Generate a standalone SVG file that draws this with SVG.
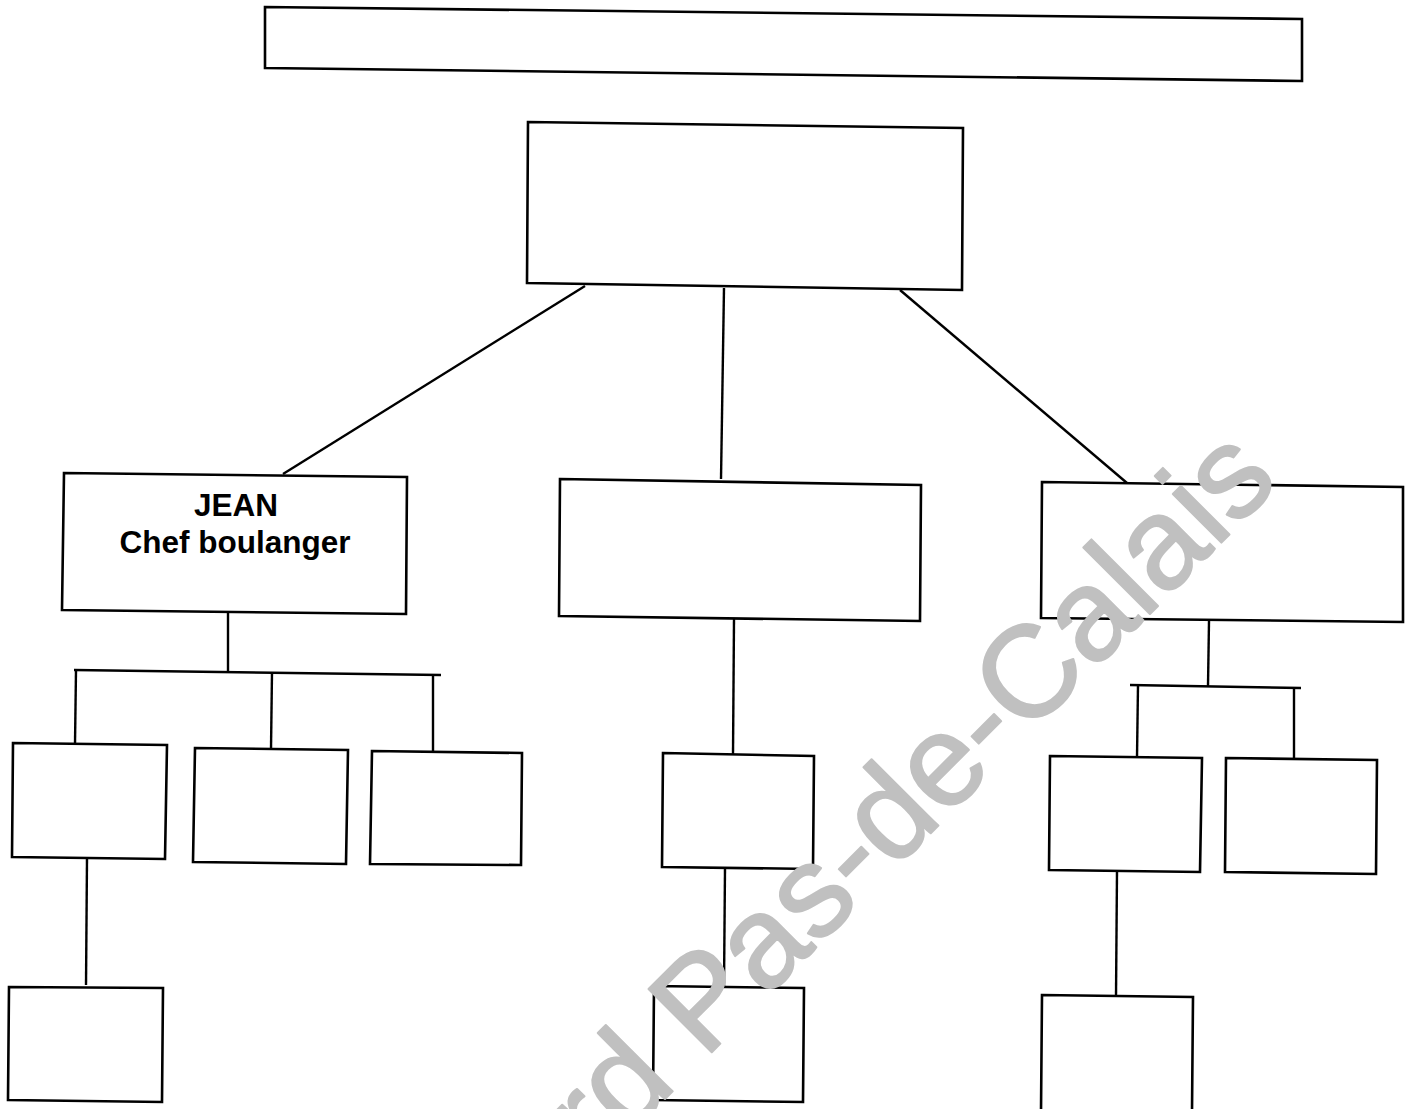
<svg xmlns="http://www.w3.org/2000/svg" width="1411" height="1109" viewBox="0 0 1411 1109">
<style>
.box{fill:#fff;stroke:#000;stroke-width:2.6;stroke-linejoin:miter}
.ln{fill:none;stroke:#000;stroke-width:2.4;stroke-linecap:butt}
.lbl{font-family:"Liberation Sans",Arial,sans-serif;font-weight:bold;font-size:31.5px;text-anchor:middle;fill:#000}
.wm{font-family:"Liberation Sans",Arial,sans-serif;font-size:130px;fill:#c0c0c0;stroke:#c0c0c0;stroke-width:2;stroke-linejoin:round}
</style>
<rect width="1411" height="1109" fill="#fff"/>
<g id="connectors">
<line class="ln" x1="585" y1="286" x2="283" y2="474"/>
<line class="ln" x1="724" y1="288" x2="721" y2="479"/>
<line class="ln" x1="900" y1="290" x2="1127" y2="483"/>
<line class="ln" x1="228" y1="613" x2="228" y2="671"/>
<line class="ln" x1="74" y1="670" x2="441" y2="675"/>
<line class="ln" x1="76" y1="670" x2="75" y2="744"/>
<line class="ln" x1="272" y1="672" x2="271" y2="749"/>
<line class="ln" x1="433" y1="675" x2="433" y2="751"/>
<line class="ln" x1="87" y1="858" x2="86" y2="985"/>
<line class="ln" x1="734" y1="619" x2="733" y2="754"/>
<line class="ln" x1="725" y1="868" x2="724" y2="986"/>
<line class="ln" x1="1209" y1="621" x2="1208" y2="686"/>
<line class="ln" x1="1130" y1="685" x2="1301" y2="688"/>
<line class="ln" x1="1138" y1="685" x2="1137" y2="757"/>
<line class="ln" x1="1294" y1="687" x2="1294" y2="764"/>
<line class="ln" x1="1117" y1="871" x2="1116" y2="996"/>
</g>
<g id="title-banner"><polygon class="box" points="265,7 1302,19 1302,81 265,68"/></g>
<g id="top-box"><polygon class="box" points="528,122 963,128 962,290 527,283"/></g>
<g id="jean">
<polygon class="box" points="64,473 407,477 406,614 62,610"/>
<text class="lbl" x="236" y="516">JEAN</text>
<text class="lbl" x="235" y="553">Chef boulanger</text>
</g>
<g id="left-a"><polygon class="box" points="13,743 167,745 165,859 12,857"/></g>
<g id="left-b"><polygon class="box" points="195,748 348,750 346,864 193,862"/></g>
<g id="left-c"><polygon class="box" points="372,751 522,753 521,865 370,864"/></g>
<g id="left-a2"><polygon class="box" points="9,987 163,988 162,1102 8,1100"/></g>
<g id="mid-1"><polygon class="box" points="560,479 921,485 920,621 559,616"/></g>
<g id="mid-2"><polygon class="box" points="663,753 814,756 813,869 662,867"/></g>
<g id="mid-3"><polygon class="box" points="654,986 804,988 803,1102 653,1100"/></g>
<g id="right-1"><polygon class="box" points="1042,482 1403,487 1403,622 1041,618"/></g>
<g id="right-2"><polygon class="box" points="1050,756 1202,758 1200,872 1049,870"/></g>
<g id="right-3"><polygon class="box" points="1226,758 1377,760 1376,874 1225,872"/></g>
<g id="right-4"><polygon class="box" points="1042,995 1193,997 1192,1112 1041,1112"/></g>
<g id="watermark">
<text class="wm" x="597" y="1167" transform="rotate(-45 597 1167)">rd Pas-de-Calais</text>
</g>
</svg>
